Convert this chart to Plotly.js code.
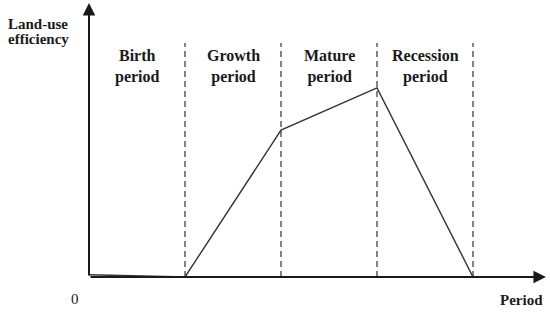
<!DOCTYPE html>
<html>
<head>
<meta charset="utf-8">
<script src="https://cdn.plot.ly/plotly-3.0.1.min.js"></script>
<style>
  body { margin: 0; background: #fff; }
  #chart { width: 550px; height: 314px; }
</style>
</head>
<body>
<div id="chart"></div>
<script>
// Land-use efficiency over the life cycle (schematic)
var periodNames = ["Birth<br>period", "Growth<br>period", "Mature<br>period", "Recession<br>period"];
var periodMid = [0.5, 1.5, 2.5, 3.5];
var periodBounds = [1, 2, 3, 4];

var curveX = [0, 1, 2, 3, 4];
var curveY = [0.8, 0, 53.6, 69, 0];

var serif = "Liberation Serif, Times New Roman, serif";
var ink = "#1a1a1a";

var trace = {
    x: curveX,
    y: curveY,
    type: "scatter",
    mode: "lines",
    line: {color: "#333", width: 1.4},
    cliponaxis: false,
    hoverinfo: "skip"
};

// dashed dividers between the periods
var shapes = periodBounds.map(b => ({
    type: "line", xref: "x", yref: "y",
    x0: b, x1: b, y0: 0, y1: 85.4,
    line: {color: "#333", width: 1.2, dash: "6px,4px"}
}));

var annotations = periodNames.map((name, i) => ({
    x: periodMid[i], y: 77, xref: "x", yref: "y",
    text: "<b>" + name.replace("<br>", "</b><br><b>") + "</b>", showarrow: false,
    font: {family: serif, size: 16, color: ink}
}));

// axes drawn as arrows
annotations.push({
    x: 0, y: 100, ax: 0, ay: 0, xref: "x", yref: "y", axref: "x", ayref: "y",
    text: "", showarrow: true, arrowhead: 2, arrowsize: 1.25, arrowwidth: 2, arrowcolor: ink
});
annotations.push({
    x: 4.76, y: 0, ax: 0, ay: 0, xref: "x", yref: "y", axref: "x", ayref: "y",
    text: "", showarrow: true, arrowhead: 2, arrowsize: 1.25, arrowwidth: 2, arrowcolor: ink
});

// axis texts
annotations.push({x: 38, y: 24, xref: "paper", yref: "paper", xanchor: "center", yanchor: "middle",
    text: "<b>Land-use</b>", showarrow: false, font: {family: serif, size: 15, color: ink}});
annotations.push({x: 38, y: 39, xref: "paper", yref: "paper", xanchor: "center", yanchor: "middle",
    text: "<b>efficiency</b>", showarrow: false, font: {family: serif, size: 15, color: ink}});
annotations.push({x: 75, y: 299, xref: "paper", yref: "paper", xanchor: "center", yanchor: "middle",
    text: "0", showarrow: false, font: {family: serif, size: 15, color: ink}});
annotations.push({x: 521, y: 300, xref: "paper", yref: "paper", xanchor: "center", yanchor: "middle",
    text: "<b>Period</b>", showarrow: false, font: {family: serif, size: 15, color: ink}});

// convert pixel positions of the free texts to paper coordinates
var L = 89, R = 3, T = 2, B = 37, W = 550, H = 314;
annotations.forEach(a => {
    if (a.xref === "paper") {
        a.x = (a.x - L) / (W - L - R);
        a.y = (H - B - a.y) / (H - T - B);
    }
});

var layout = {
    width: W,
    height: H,
    margin: {l: L, r: R, t: T, b: B},
    paper_bgcolor: "#fff",
    plot_bgcolor: "#fff",
    showlegend: false,
    xaxis: {range: [0, (W - L - R) / 96], visible: false, fixedrange: true},
    yaxis: {range: [0, (H - T - B) / 2.74], visible: false, fixedrange: true},
    shapes: shapes,
    annotations: annotations
};

Plotly.newPlot("chart", [trace], layout, {displayModeBar: false, staticPlot: true});
</script>
</body>
</html>
